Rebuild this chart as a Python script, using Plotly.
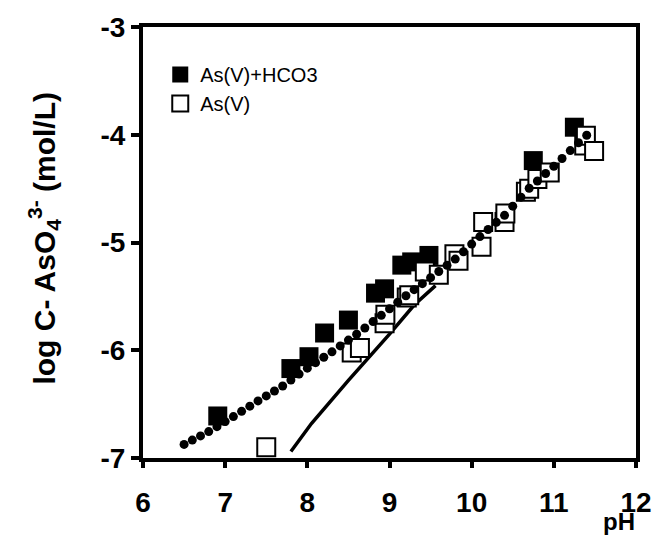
import plotly.graph_objects as go

# Measured concentrations with bicarbonate present
ph_hco3 = [6.91, 7.80, 8.02, 8.21, 8.50, 8.83, 8.94, 9.15, 9.27, 9.48, 10.75, 11.25]
logc_hco3 = [-6.61, -6.17, -6.06, -5.84, -5.72, -5.47, -5.43, -5.21, -5.18, -5.12, -4.24, -3.93]

# Measured concentrations, As(V) alone
ph_as = [7.50, 8.54, 8.64, 8.94, 8.95, 9.21, 9.24, 9.43, 9.60, 9.79, 9.84, 10.12, 10.14,
         10.40, 10.41, 10.66, 10.70, 10.80, 10.95, 11.37, 11.39, 11.49]
logc_as = [-6.90, -6.02, -5.98, -5.75, -5.67, -5.51, -5.49, -5.27, -5.30, -5.11, -5.17, -5.04, -4.81,
           -4.81, -4.73, -4.53, -4.50, -4.41, -4.35, -4.10, -4.01, -4.15]

# Model curve (dotted)
ph_model = [6.5, 6.6, 6.7, 6.8, 6.9, 7.0, 7.1, 7.2, 7.3, 7.4, 7.5, 7.6, 7.7, 7.8, 7.9,
            8.0, 8.1, 8.2, 8.3, 8.4, 8.5, 8.6, 8.7, 8.8, 8.9, 9.0, 9.1, 9.2, 9.3, 9.4,
            9.5, 9.6, 9.7, 9.8, 9.9, 10.0, 10.1, 10.2, 10.3, 10.4, 10.5, 10.6, 10.7, 10.8,
            10.9, 11.0, 11.1, 11.2, 11.3, 11.4]
logc_model = [-6.874, -6.834, -6.795, -6.755, -6.709, -6.662, -6.616, -6.567, -6.519, -6.470,
              -6.424, -6.378, -6.332, -6.277, -6.221, -6.166, -6.115, -6.065, -6.015, -5.960,
              -5.906, -5.851, -5.793, -5.734, -5.676, -5.616, -5.555, -5.494, -5.438, -5.382,
              -5.326, -5.269, -5.212, -5.154, -5.086, -5.015, -4.945, -4.879, -4.813, -4.748,
              -4.663, -4.579, -4.497, -4.429, -4.360, -4.292, -4.220, -4.147, -4.074, -4.005]

# Model line (solid)
ph_line = [7.80, 8.05, 8.50, 8.70, 9.00, 9.30, 9.56]
logc_line = [-6.94, -6.68, -6.28, -6.11, -5.85, -5.58, -5.40]

x_ticks = [6, 7, 8, 9, 10, 11, 12]
y_ticks = [-7, -6, -5, -4, -3]
y_ticktext = ["-7", "-6", "-5", "-4", "-3"]

FONT = "Liberation Sans, Arial, sans-serif"

fig = go.Figure()

fig.add_trace(go.Scatter(x=ph_line, y=logc_line, mode="lines",
                         line=dict(color="black", width=3.5), showlegend=False))
fig.add_trace(go.Scatter(x=ph_hco3, y=logc_hco3, mode="markers", name="As(V)+HCO3",
                         marker=dict(symbol="square", size=19, color="black",
                                     line=dict(color="black", width=0))))
fig.add_trace(go.Scatter(x=ph_as, y=logc_as, mode="markers", name="As(V)",
                         marker=dict(symbol="square", size=18, color="white",
                                     line=dict(color="black", width=2))))
fig.add_trace(go.Scatter(x=ph_model, y=logc_model, mode="markers",
                         marker=dict(symbol="circle", size=9, color="black"),
                         showlegend=False))

axis_common = dict(showgrid=False, zeroline=False, showline=True, linecolor="black",
                   linewidth=4, mirror=True, ticks="outside", tickcolor="black",
                   tickwidth=3.5,
                   tickfont=dict(family=FONT, size=28, color="black", weight="bold"))

fig.update_xaxes(range=[6, 12], tickvals=x_ticks, ticklen=6, ticklabelstandoff=10,
                 **axis_common)
fig.update_yaxes(range=[-7, -3], tickvals=y_ticks, ticktext=y_ticktext, ticklen=8,
                 ticklabelstandoff=0, **axis_common)

fig.add_annotation(text="log C- AsO<sub>4</sub><sup>3-</sup> (mol/L)", textangle=-90,
                   xref="paper", yref="paper", x=-0.2, y=0.51, showarrow=False,
                   xanchor="center", yanchor="middle",
                   font=dict(family=FONT, size=30, color="black", weight="bold"))
fig.add_annotation(text="pH", xref="paper", yref="paper", x=0.966, y=-0.148,
                   showarrow=False, xanchor="center", yanchor="middle",
                   font=dict(family=FONT, size=24, color="black", weight="bold"))

fig.update_layout(
    width=664, height=538,
    margin=dict(l=143, r=26, t=24, b=80),
    paper_bgcolor="white", plot_bgcolor="white",
    font=dict(family=FONT, color="black"),
    legend=dict(x=0.035, y=0.935, xanchor="left", yanchor="top",
                bgcolor="rgba(0,0,0,0)", borderwidth=0,
                font=dict(family=FONT, size=20, color="black"),
                tracegroupgap=22, traceorder="grouped", itemwidth=30),
)

fig.write_html("out.html")
